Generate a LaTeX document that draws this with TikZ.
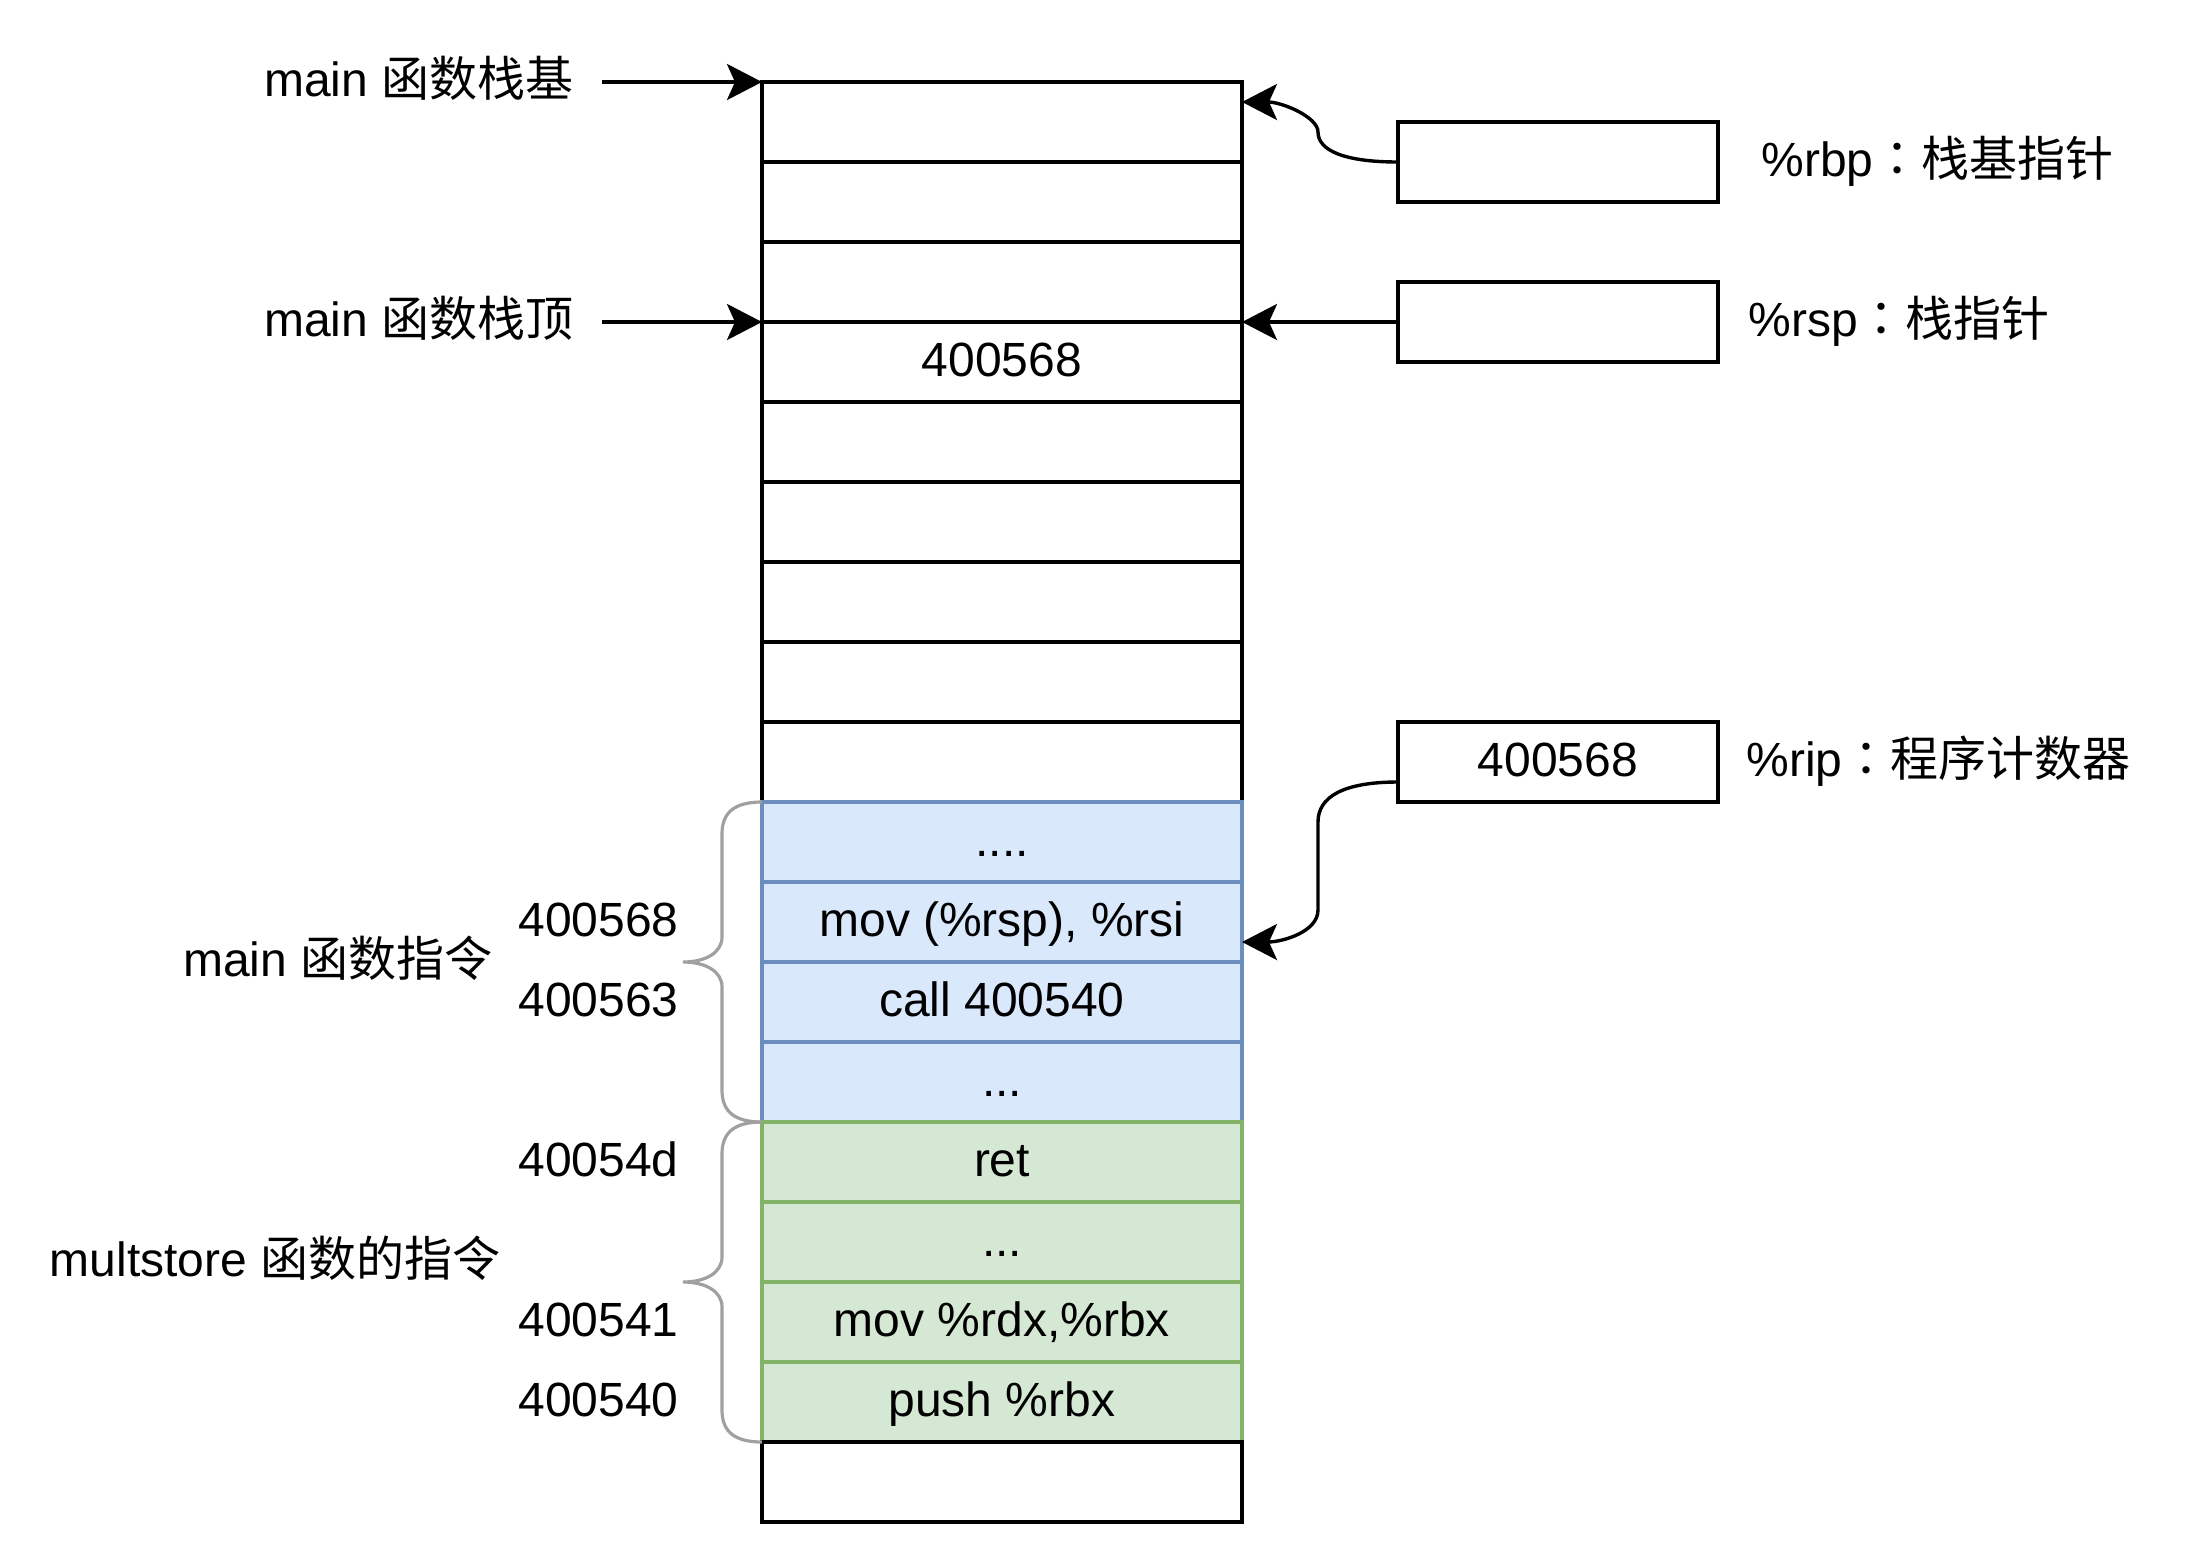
\documentclass[tikz,border=0pt]{standalone}
\usepackage{fontspec}
\setmainfont{Liberation Sans}
\newfontfamily\cjk{Noto Sans CJK SC}
\newfontfamily\cjkp{Noto Sans CJK TC}
\usepackage{tikz}
\usetikzlibrary{arrows.meta,positioning}
\definecolor{mainfill}{HTML}{DAE8FC}
\definecolor{mainline}{HTML}{6C8EBF}
\definecolor{subfill}{HTML}{D5E8D4}
\definecolor{subline}{HTML}{82B366}
\definecolor{bracegray}{HTML}{A0A0A0}

\begin{document}
\begin{tikzpicture}[x=0.5pt,y=-0.5pt]
    \tikzset{
      txt/.style={font=\fontsize{24pt}{28pt}\selectfont,text height=20.6pt,text depth=5.8pt,inner sep=0pt},
      cell/.style={txt,rectangle,draw=black,line width=1.75pt,minimum width=240pt,minimum height=40pt,outer sep=0pt},
      maincell/.style={cell,fill=mainfill,draw=mainline,line width=1.6pt},
      subcell/.style={cell,fill=subfill,draw=subline,line width=1.6pt},
      regbox/.style={txt,rectangle,draw=black,line width=2pt,minimum width=160pt,minimum height=40pt,outer sep=0pt},
      arrow/.style={-{Stealth[length=17.5pt,width=18pt,inset=4pt]},line width=1.7pt},
      bracket/.style={draw=bracegray,line width=1.6pt}
    }
    \useasboundingbox (0,0) rectangle (2196,1564);
    \node[cell] (c0) at (1002,122) {};
    \node[cell,below=0pt of c0] (c1) {};
    \node[cell,below=0pt of c1] (c2) {};
    \node[cell,below=0pt of c2] (c3) {400568};
    \node[cell,below=0pt of c3] (c4) {};
    \node[cell,below=0pt of c4] (c5) {};
    \node[cell,below=0pt of c5] (c6) {};
    \node[cell,below=0pt of c6] (c7) {};
    \node[cell,below=0pt of c7] (c8) {};
    \node[maincell,below=0pt of c8] (c9) {....};
    \node[maincell,below=0pt of c9] (c10) {mov (\%rsp), \%rsi};
    \node[maincell,below=0pt of c10] (c11) {call 400540};
    \node[maincell,below=0pt of c11] (c12) {...};
    \node[subcell,below=0pt of c12] (c13) {ret};
    \node[subcell,below=0pt of c13] (c14) {...};
    \node[subcell,below=0pt of c14] (c15) {mov \%rdx,\%rbx};
    \node[subcell,below=0pt of c15] (c16) {push \%rbx};
    \node[cell,below=0pt of c16] (c17) {};

    \node[regbox,right=78pt of c0.south east] (rbp) {};
    \node[regbox,right=78pt of c3.north east] (rsp) {};
    \node[regbox,right=78pt of c8.east] (rip) {400568};
    \node[txt,right=21.5pt of rbp] (rbplbl) {\%rbp{\cjkp ：}{\cjk 栈基指针}};
    \node[txt,right=15pt of rsp] (rsplbl) {\%rsp{\cjkp ：}{\cjk 栈指针}};
    \node[txt,right=14pt of rip] (riplbl) {\%rip{\cjkp ：}{\cjk 程序计数器}};

    \node[txt,left=94pt of c0.north west] (baselbl) {main {\cjk 函数栈基}};
    \node[txt,left=94pt of c3.north west] (toplbl) {main {\cjk 函数栈顶}};
    \node[txt,left=134.5pt of c11.north west] (mainlbl) {main {\cjk 函数指令}};
    \node[txt,left=130.5pt of c15.north west,yshift=10pt] (sublbl) {multstore {\cjk 函数的指令}};

    \node[txt,left=41.5pt of c10.west] (a10) {400568};
    \node[txt,left=41.5pt of c11.west] (a11) {400563};
    \node[txt,left=41.5pt of c13.west] (a13) {40054d};
    \node[txt,left=41.5pt of c15.west] (a15) {400541};
    \node[txt,left=41.5pt of c16.west] (a16) {400540};

    \draw[bracket] (c9.north west) .. controls +(-27,0) and +(0,-22) .. ++(-40,32) -- ++(0,103) .. controls +(0,16) and +(22,0) .. ++(-39,25) .. controls +(22,0) and +(0,-16) .. ++(39,25) -- ++(0,103) .. controls +(0,22) and +(-27,0) .. (c13.north west);
    \draw[bracket] (c13.north west) .. controls +(-27,0) and +(0,-22) .. ++(-40,32) -- ++(0,103) .. controls +(0,16) and +(22,0) .. ++(-39,25) .. controls +(22,0) and +(0,-16) .. ++(39,25) -- ++(0,103) .. controls +(0,22) and +(-27,0) .. (c17.north west);

    \draw[arrow,shorten <=14pt] (baselbl) -- (c0.north west);
    \draw[arrow,shorten <=14pt] (toplbl) -- (c3.north west);
    \draw[arrow] (rsp) -- (c3.north east);
    \draw[arrow] (rbp.west) .. controls +(-55,0) and +(0,18) .. ++(-80,-30) .. controls +(0,-15) and +(40,0) .. ([yshift=10pt]c0.east);
    \draw[arrow] ([yshift=-10pt]rip.west) .. controls +(-55,0) and +(0,-25) .. ++(-80,40) -- ++(0,88) .. controls +(0,22) and +(40,0) .. ([yshift=-10pt]c10.east);

  \end{tikzpicture}
\end{document}
